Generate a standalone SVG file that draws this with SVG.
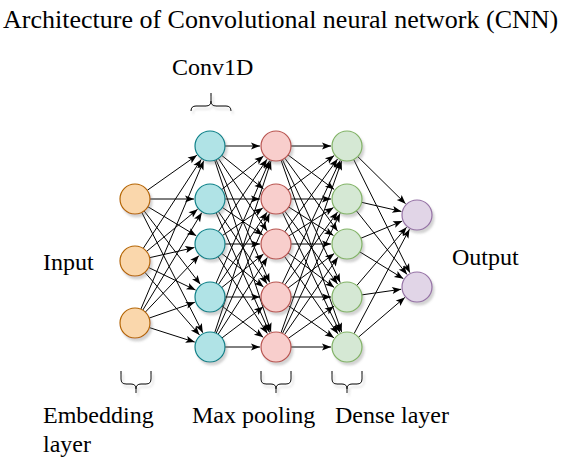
<svg xmlns="http://www.w3.org/2000/svg" width="571" height="460" viewBox="0 0 571 460">
<style>
text{font-family:"Liberation Serif","Times New Roman",serif;fill:#000;}
.t{font-size:26px;}
.l{font-size:24px;}
.e line{stroke:#000;stroke-width:1;marker-end:url(#ah);}
.n{stroke-width:1.2;filter:url(#sh);}
.in{fill:#fad7ac;stroke:#b46504;}
.cv{fill:#b0e3e6;stroke:#0e8088;}
.pl{fill:#f8cecc;stroke:#b85450;}
.dn{fill:#d5e8d4;stroke:#82b366;}
.ou{fill:#e1d5e7;stroke:#9673a6;}
.br{fill:none;stroke:#000;stroke-width:1;filter:url(#sh);}
</style>
<defs>
<marker id="ah" markerUnits="userSpaceOnUse" markerWidth="10" markerHeight="8" refX="9" refY="3.5" orient="auto" overflow="visible">
<path d="M0,0 L9,3.5 L0,7 L2,3.5 Z" fill="#000"/>
</marker>
<filter id="sh" x="-30%" y="-30%" width="160%" height="160%">
<feDropShadow dx="2" dy="3" stdDeviation="1" flood-color="#808080" flood-opacity="0.35"/>
</filter>
</defs>
<text class="t" x="3" y="28">Architecture of Convolutional neural network (CNN)</text>
<text class="l" x="172" y="75">Conv1D</text>
<text class="l" x="43" y="270">Input</text>
<text class="l" x="452" y="265">Output</text>
<text class="l" x="43" y="423">Embedding</text>
<text class="l" x="43" y="452">layer</text>
<text class="l" x="192" y="423">Max pooling</text>
<text class="l" x="335" y="423">Dense layer</text>
<g id="braces">
<path class="br" d="M191,111 Q191,106 196,106 L206,106 Q211,106 211,101 L211,93 M211,101 Q211,106 216,106 L226,106 Q231,106 231,111"/>
<path class="br" d="M121,371 L121,379 Q121,384 126,384 L131,384 Q136,384 136,389 L136,393 M136,389 Q136,384 141,384 L146,384 Q151,384 151,379 L151,371"/>
<path class="br" d="M261,371 L261,379 Q261,384 266,384 L271,384 Q276,384 276,389 L276,393 M276,389 Q276,384 281,384 L286,384 Q291,384 291,379 L291,371"/>
<path class="br" d="M332,371 L332,379 Q332,384 337,384 L342,384 Q347,384 347,389 L347,393 M347,389 Q347,384 352,384 L357,384 Q362,384 362,379 L362,371"/>
</g>
<g id="connectors" class="e">
<line x1="147.25" y1="190.34" x2="196.93" y2="155.23"/>
<line x1="150" y1="199" x2="194" y2="199"/>
<line x1="147.86" y1="206.72" x2="196.28" y2="235.77"/>
<line x1="144.12" y1="210.91" x2="200.28" y2="284.29"/>
<line x1="141.78" y1="212.38" x2="202.77" y2="332.73"/>
<line x1="143.19" y1="248.44" x2="201.26" y2="159.40"/>
<line x1="146.56" y1="251.44" x2="197.67" y2="209.19"/>
<line x1="149.63" y1="257.68" x2="194.40" y2="247.54"/>
<line x1="148.52" y1="267.49" x2="195.58" y2="290.08"/>
<line x1="144.86" y1="272.31" x2="199.48" y2="334.94"/>
<line x1="140.85" y1="309.19" x2="203.76" y2="160.73"/>
<line x1="142.76" y1="310.17" x2="201.72" y2="212.69"/>
<line x1="145.33" y1="312.12" x2="198.98" y2="255.60"/>
<line x1="149.17" y1="318.09" x2="194.88" y2="302.24"/>
<line x1="149.29" y1="327.57" x2="194.76" y2="342.12"/>

<line x1="225" y1="146" x2="260" y2="146"/>
<line x1="221.70" y1="155.39" x2="263.52" y2="188.98"/>
<line x1="218.38" y1="158.44" x2="267.06" y2="230.73"/>
<line x1="216.01" y1="159.74" x2="269.59" y2="282.34"/>
<line x1="214.68" y1="160.25" x2="271.01" y2="331.80"/>
<line x1="221.70" y1="189.61" x2="263.52" y2="156.02"/>
<line x1="225" y1="199" x2="260" y2="199"/>
<line x1="222.39" y1="207.45" x2="262.78" y2="234.99"/>
<line x1="218.38" y1="211.44" x2="267.06" y2="283.73"/>
<line x1="216.11" y1="212.70" x2="269.48" y2="332.39"/>
<line x1="218.38" y1="231.56" x2="267.06" y2="159.27"/>
<line x1="222.39" y1="235.55" x2="262.78" y2="208.01"/>
<line x1="225" y1="244" x2="260" y2="244"/>
<line x1="221.70" y1="253.39" x2="263.52" y2="286.98"/>
<line x1="218.09" y1="256.63" x2="267.37" y2="333.53"/>
<line x1="216.01" y1="283.26" x2="269.59" y2="160.66"/>
<line x1="218.38" y1="284.56" x2="267.06" y2="212.27"/>
<line x1="221.70" y1="287.61" x2="263.52" y2="254.02"/>
<line x1="225" y1="297" x2="260" y2="297"/>
<line x1="221.96" y1="306.06" x2="263.25" y2="337.34"/>
<line x1="214.68" y1="332.75" x2="271.01" y2="161.20"/>
<line x1="216.11" y1="333.30" x2="269.48" y2="213.61"/>
<line x1="218.09" y1="334.37" x2="267.37" y2="257.47"/>
<line x1="221.96" y1="337.94" x2="263.25" y2="306.66"/>
<line x1="225" y1="347" x2="260" y2="347"/>

<line x1="291" y1="146" x2="331" y2="146"/>
<line x1="288.02" y1="154.97" x2="334.18" y2="189.43"/>
<line x1="284.80" y1="158.15" x2="337.61" y2="231.04"/>
<line x1="282.38" y1="159.57" x2="340.19" y2="282.52"/>
<line x1="281.00" y1="160.14" x2="341.67" y2="331.91"/>
<line x1="288.02" y1="190.03" x2="334.18" y2="155.57"/>
<line x1="291" y1="199" x2="331" y2="199"/>
<line x1="288.67" y1="207.03" x2="333.49" y2="235.43"/>
<line x1="284.80" y1="211.15" x2="337.61" y2="284.04"/>
<line x1="282.49" y1="212.52" x2="340.08" y2="332.57"/>
<line x1="284.80" y1="231.85" x2="337.61" y2="158.96"/>
<line x1="288.67" y1="235.97" x2="333.49" y2="207.57"/>
<line x1="291" y1="244" x2="331" y2="244"/>
<line x1="288.02" y1="252.97" x2="334.18" y2="287.43"/>
<line x1="284.51" y1="256.35" x2="337.92" y2="333.83"/>
<line x1="282.38" y1="283.43" x2="340.19" y2="160.48"/>
<line x1="284.80" y1="284.85" x2="337.61" y2="211.96"/>
<line x1="288.02" y1="288.03" x2="334.18" y2="253.57"/>
<line x1="291" y1="297" x2="331" y2="297"/>
<line x1="288.26" y1="305.64" x2="333.92" y2="337.79"/>
<line x1="281.00" y1="332.86" x2="341.67" y2="161.09"/>
<line x1="282.49" y1="333.48" x2="340.08" y2="213.43"/>
<line x1="284.51" y1="334.65" x2="337.92" y2="257.17"/>
<line x1="288.26" y1="338.36" x2="333.92" y2="306.21"/>
<line x1="291" y1="347" x2="331" y2="347"/>

<line x1="357.68" y1="156.53" x2="405.60" y2="203.77"/>
<line x1="353.67" y1="159.44" x2="409.88" y2="272.67"/>
<line x1="361.62" y1="202.34" x2="401.40" y2="211.44"/>
<line x1="356.34" y1="210.74" x2="407.04" y2="274.48"/>
<line x1="360.86" y1="238.26" x2="402.22" y2="221.12"/>
<line x1="359.78" y1="251.85" x2="403.37" y2="278.63"/>
<line x1="356.74" y1="285.59" x2="406.61" y2="227.17"/>
<line x1="361.85" y1="294.88" x2="401.16" y2="289.26"/>
<line x1="354.03" y1="333.75" x2="409.50" y2="229.14"/>
<line x1="358.39" y1="337.24" x2="404.85" y2="297.41"/>
</g>
<g id="input">
<g id="in1"><circle class="n in" cx="135" cy="199" r="15"/></g>
<g id="in2"><circle class="n in" cx="135" cy="261" r="15"/></g>
<g id="in3"><circle class="n in" cx="135" cy="323" r="15"/></g>
</g>
<g id="conv">
<g id="cv1"><circle class="n cv" cx="210" cy="146" r="15"/></g>
<g id="cv2"><circle class="n cv" cx="210" cy="199" r="15"/></g>
<g id="cv3"><circle class="n cv" cx="210" cy="244" r="15"/></g>
<g id="cv4"><circle class="n cv" cx="210" cy="297" r="15"/></g>
<g id="cv5"><circle class="n cv" cx="210" cy="347" r="15"/></g>
</g>
<g id="pool">
<g id="pl1"><circle class="n pl" cx="276" cy="146" r="15"/></g>
<g id="pl2"><circle class="n pl" cx="276" cy="199" r="15"/></g>
<g id="pl3"><circle class="n pl" cx="276" cy="244" r="15"/></g>
<g id="pl4"><circle class="n pl" cx="276" cy="297" r="15"/></g>
<g id="pl5"><circle class="n pl" cx="276" cy="347" r="15"/></g>
</g>
<g id="dense">
<g id="dn1"><circle class="n dn" cx="347" cy="146" r="15"/></g>
<g id="dn2"><circle class="n dn" cx="347" cy="199" r="15"/></g>
<g id="dn3"><circle class="n dn" cx="347" cy="244" r="15"/></g>
<g id="dn4"><circle class="n dn" cx="347" cy="297" r="15"/></g>
<g id="dn5"><circle class="n dn" cx="347" cy="347" r="15"/></g>
</g>
<g id="output">
<g id="ou1"><circle class="n ou" cx="417" cy="215" r="15"/></g>
<g id="ou2"><circle class="n ou" cx="417" cy="287" r="15"/></g>
</g>
</svg>
